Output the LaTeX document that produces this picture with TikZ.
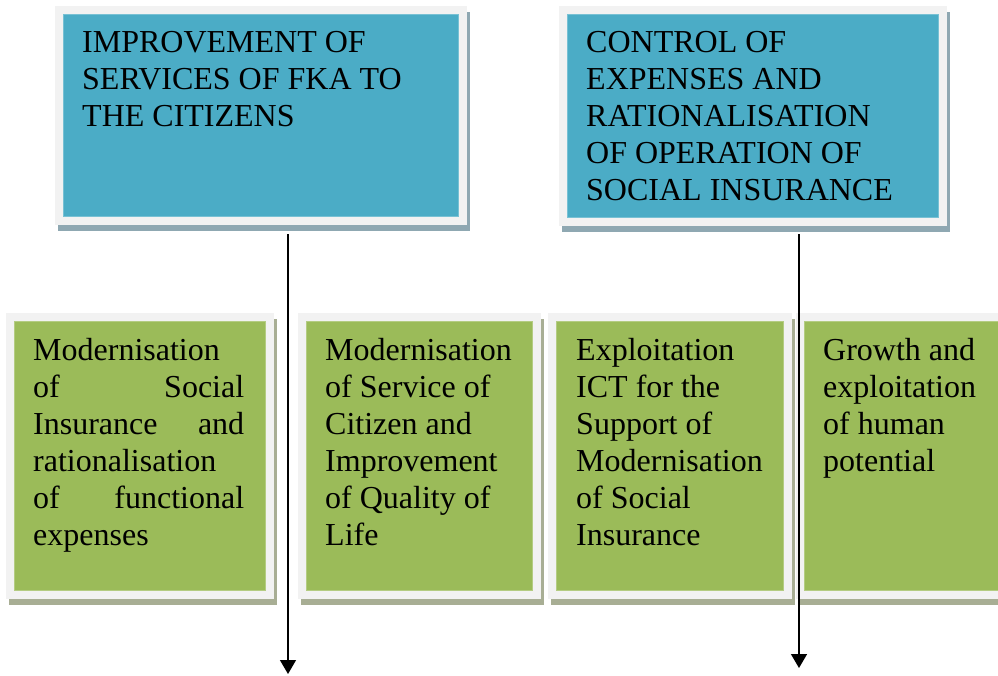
\documentclass[tikz,border=0pt]{standalone}
\usepackage{fontspec}
\setmainfont{Liberation Serif}
\usetikzlibrary{arrows.meta,backgrounds}

\definecolor{cardblue}{RGB}{75,172,198}
\definecolor{cardgreen}{RGB}{155,187,89}
\definecolor{framegray}{RGB}{242,242,242}
\definecolor{blueshadow}{RGB}{143,168,178}
\definecolor{greenshadow}{RGB}{168,174,148}

\tikzset{
  card/.style={anchor=north west, inner sep=0pt, fill=#1, draw=#1!75!white, line width=0.6pt},
  cardtext/.style={anchor=base west, inner sep=0pt, font=\fontsize{32}{37}\selectfont},
  flow/.style={line width=1.4pt, -{Triangle[width=16pt,length=14pt]}}
}

\newcommand{\cardlines}[2]{\parbox[t]{#1}{\raggedright #2}}

\begin{document}
\begin{tikzpicture}[x=1pt,y=-1pt]
  \clip (0,0) rectangle (998,675);

  % upper goal cards
  \node[card=cardblue, minimum width=395pt, minimum height=202pt] (t1) at (63,14) {};
  \node[card=cardblue, minimum width=371pt, minimum height=203pt] (t2) at (567,14) {};

  % lower action cards
  \node[card=cardgreen, minimum width=251pt, minimum height=269pt] (g1) at (14,321) {};
  \node[card=cardgreen, minimum width=226pt, minimum height=269pt] (g2) at (306,321) {};
  \node[card=cardgreen, minimum width=227pt, minimum height=269pt] (g3) at (556,321) {};
  \node[card=cardgreen, minimum width=220pt, minimum height=269pt] (g4) at (804,321) {};

  % page, white frames and drop shadows behind the cards
  \begin{pgfonlayer}{background}
    \fill[white] (0,0) rectangle (998,675);
    \foreach \n/\s in {t1/blueshadow,t2/blueshadow,g1/greenshadow,g2/greenshadow,g3/greenshadow,g4/greenshadow}{
      \fill[\s] ([shift={(-5,-2)}]\n.north west) rectangle ([shift={(11,14)}]\n.south east);
      \fill[framegray] ([shift={(-8,-8)}]\n.north west) rectangle ([shift={(8,8)}]\n.south east);
    }
  \end{pgfonlayer}

  % card texts
  \node[cardtext] (t1txt) at (82,52) {\cardlines{380pt}{IMPROVEMENT OF\\SERVICES OF FKA TO\\THE CITIZENS}};
  \node[cardtext] (t2txt) at (586,52) {\cardlines{350pt}{CONTROL OF\\EXPENSES AND\\RATIONALISATION\\OF OPERATION OF\\SOCIAL INSURANCE}};

  \node[cardtext] (g1txt) at (33,360) {\cardlines{211pt}{Modernisation\\of\hfill Social\\Insurance\hfill and\\rationalisation\\of\hfill functional\\expenses}};
  \node[cardtext] (g2txt) at (325,360) {\cardlines{205pt}{Modernisation\\of Service of\\Citizen and\\Improvement\\of Quality of\\Life}};
  \node[cardtext] (g3txt) at (576,360) {\cardlines{205pt}{Exploitation\\ICT for the\\Support of\\Modernisation\\of Social\\Insurance}};
  \node[cardtext] (g4txt) at (823,360) {\cardlines{175pt}{Growth and\\exploitation\\of human\\potential}};

  % downward arrows
  \coordinate (a1s) at (288,234);
  \coordinate (a1e) at (288,674);
  \coordinate (a2s) at (799,234);
  \coordinate (a2e) at (799,668);
  \draw[flow] (a1s) -- (a1e);
  \draw[flow] (a2s) -- (a2e);
\end{tikzpicture}
\end{document}
